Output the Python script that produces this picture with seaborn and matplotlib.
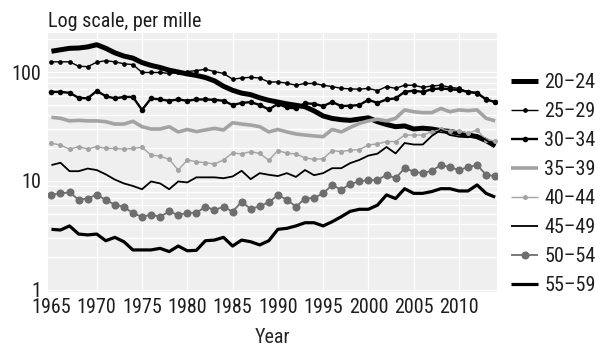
import matplotlib
matplotlib.use("Agg")
import matplotlib.pyplot as plt
from matplotlib import font_manager
from matplotlib.ticker import FixedLocator, NullFormatter
import pandas as pd
import seaborn as sns

# Age-specific fertility rates, per mille, 1965-2014
years = list(range(1965, 2015))
age_groups = ["20–24", "25–29", "30–34", "35–39", "40–44", "45–49", "50–54", "55–59"]

rate_20_24 = [155, 160, 165, 166, 170, 178, 165, 150, 140, 134,
              122, 115, 110, 104, 100, 96, 93, 89, 83, 74,
              68, 64, 62, 58, 55, 53, 51, 49.5, 48, 44,
              39.5, 37.5, 36.5, 36, 37, 38, 35, 33, 31.5, 32,
              30, 30.5, 30, 29, 28.5, 27.5, 26.5, 25.5, 23.5, 21]
rate_25_29 = [124, 124, 124, 113, 112, 123, 127, 124, 119, 117,
              99, 99, 99, 97, 99, 101, 103, 106, 101, 97,
              86, 88, 89.5, 88, 81, 81, 79, 75.6, 78.5, 78.5,
              75.6, 73.5, 70.8, 70, 69.5, 70.8, 67.4, 73.5, 70.8, 75.6,
              75.6, 72.3, 74.4, 75.6, 72.3, 70.8, 65.7, 63.3, 55.9, 53]
rate_30_34 = [65.7, 65.7, 64.4, 58, 57.3, 67, 60, 57.3, 59, 59,
              44.9, 57.3, 56, 54.5, 56, 54.5, 56, 56, 55.6, 54.5,
              49.8, 52, 53, 49.8, 45.4, 51, 47.3, 46.3, 51.6, 51,
              48.7, 53, 48.7, 49, 49.8, 55.6, 52, 56, 57.3, 65.7,
              67.4, 65.7, 69.5, 70.8, 69.5, 68.4, 65.7, 64.4, 56, 53]
rate_35_39 = [38.4, 37.6, 35.6, 36, 35.6, 35.6, 35, 33.3, 33.3, 35.3,
              31.5, 30, 30, 31.5, 28.2, 29.7, 28.4, 29.4, 30.4, 29.4,
              34.2, 33.3, 32.6, 31.5, 28.2, 29.7, 28.2, 27, 26.4, 25.9,
              25.5, 29.7, 28.2, 31, 33.8, 35.6, 36.8, 35.6, 37.6, 44.9,
              43.2, 42.4, 42.4, 46.3, 43.2, 44.9, 44.2, 44.9, 37.6, 35.6]
rate_40_44 = [22.2, 21.4, 19.5, 20.7, 19.6, 20.7, 19.9, 19.9, 19.6, 19.9,
              20.4, 17.3, 16.9, 15.8, 12.6, 15.6, 15.0, 14.7, 14.3, 15.6,
              18.1, 17.7, 18.6, 17.9, 15.5, 19.0, 18.0, 17.7, 16.3, 15.8,
              16.0, 19.0, 18.6, 19.2, 19.4, 21.4, 21.9, 23.0, 23.0, 26.4,
              26.4, 26.4, 28.2, 29.7, 28.9, 28.9, 27.4, 29.4, 23.8, 23.4]
rate_45_49 = [14.0, 14.7, 12.3, 12.3, 13.0, 12.6, 11.5, 10.3, 9.5, 9.0,
              8.4, 9.9, 9.5, 8.4, 9.9, 9.7, 10.8, 10.8, 10.8, 10.6,
              11.0, 12.4, 10.4, 11.8, 11.4, 11.1, 11.8, 10.9, 12.6, 11.3,
              11.8, 13.1, 13.1, 14.6, 15.6, 17.1, 17.8, 20.5, 17.9, 22.3,
              21.6, 21.6, 25.9, 29.4, 26.4, 25.5, 25.2, 26.4, 23.8, 20.9]
rate_50_54 = [7.5, 7.7, 7.85, 6.75, 6.9, 7.5, 6.7, 6.05, 5.8, 5.05,
              4.7, 4.9, 4.7, 5.25, 4.87, 5.1, 5.1, 5.8, 5.42, 5.8,
              5.23, 6.45, 5.55, 5.85, 6.4, 7.4, 6.75, 5.8, 6.9, 7.0,
              7.7, 9.2, 8.3, 9.4, 9.9, 10.2, 10.2, 11.4, 10.6, 13.1,
              12.2, 11.8, 12.4, 14.0, 13.4, 12.6, 13.4, 14.0, 11.4, 11.1]
rate_55_59 = [3.6, 3.55, 3.87, 3.26, 3.2, 3.26, 2.83, 3.04, 2.77, 2.33,
              2.33, 2.33, 2.41, 2.25, 2.53, 2.29, 2.31, 2.83, 2.87, 3.04,
              2.53, 2.87, 2.77, 2.59, 2.83, 3.6, 3.68, 3.87, 4.14, 4.14,
              3.87, 4.23, 4.7, 5.27, 5.5, 5.5, 6.0, 7.45, 6.9, 8.5,
              7.7, 7.7, 8.0, 8.5, 8.5, 8.1, 8.1, 9.2, 7.7, 7.1]

series = [rate_20_24, rate_25_29, rate_30_34, rate_35_39,
          rate_40_44, rate_45_49, rate_50_54, rate_55_59]

df = pd.concat(
    [pd.DataFrame({"Year": years, "Rate": vals, "Age": age})
     for age, vals in zip(age_groups, series)],
    ignore_index=True,
)

# Line appearance per age group
styles = {
    "20–24": dict(color="#000000", linewidth=3.6),
    "25–29": dict(color="#000000", linewidth=1.0, marker="o", markersize=3.4),
    "30–34": dict(color="#000000", linewidth=1.7, marker="o", markersize=4.0),
    "35–39": dict(color="#a3a3a3", linewidth=2.6),
    "40–44": dict(color="#a3a3a3", linewidth=1.0, marker="o", markersize=3.6),
    "45–49": dict(color="#000000", linewidth=1.3),
    "50–54": dict(color="#6e6e6e", linewidth=1.3, marker="o", markersize=5.8),
    "55–59": dict(color="#000000", linewidth=2.3),
}

sns.set_style("white")

# Prefer a narrow sans face; otherwise use Liberation Sans at a smaller size
installed = {f.name for f in font_manager.fontManager.ttflist}
narrow = [n for n in ("Liberation Sans Narrow", "Roboto Condensed",
                      "Open Sans Condensed") if n in installed]
if narrow:
    plt.rcParams["font.family"] = [narrow[0], "DejaVu Sans"]
    FS = 14.5
else:
    plt.rcParams["font.family"] = ["Liberation Sans", "DejaVu Sans"]
    FS = 12.3
plt.rcParams["text.color"] = "#1e1e1e"

fig = plt.figure(figsize=(5.95, 3.49), dpi=100)
ax = fig.add_axes([48 / 595, 1 - 292 / 349, 449 / 595, 259 / 349])
ax.set_facecolor("#efefef")

for age in age_groups:
    sub = df[df["Age"] == age]
    sns.lineplot(data=sub, x="Year", y="Rate", ax=ax, label=age,
                 markeredgewidth=0, solid_joinstyle="round",
                 solid_capstyle="butt", **styles[age])

ax.set_yscale("log")
ax.set_xlim(1964.62, 2014.2)
ax.set_ylim(0.958, 228)

ax.set_xticks(list(range(1965, 2011, 5)))
ax.set_xticklabels([str(y) for y in range(1965, 2011, 5)])
ax.yaxis.set_major_locator(FixedLocator([1, 10, 100]))
ax.set_yticklabels(["1", "10", "100"])
minor = [m * d for d in (1, 10, 100) for m in range(2, 10) if m * d < 228]
ax.yaxis.set_minor_locator(FixedLocator(minor))
ax.yaxis.set_minor_formatter(NullFormatter())

ax.grid(True, which="both", color="white", linewidth=0.9)
ax.set_axisbelow(True)
ax.xaxis.get_gridlines()[0].set_visible(False)

ax.tick_params(axis="both", which="both", length=0, labelsize=FS, colors="#1e1e1e")
ax.tick_params(axis="x", pad=4)
ax.tick_params(axis="y", pad=5)
for s in ax.spines.values():
    s.set_visible(False)

ax.set_xlabel("Year", fontsize=FS, labelpad=8)
ax.set_ylabel("")

fig.text(48 / 595, 1 - 27 / 349, "Log scale, per mille", fontsize=FS,
         ha="left", va="baseline")

leg = ax.legend(loc="upper left", bbox_to_anchor=(511 / 595, 1 - 73 / 349),
                bbox_transform=fig.transFigure, frameon=False, fontsize=FS,
                handlelength=1.35, handletextpad=0.3, labelspacing=0.5,
                borderaxespad=0, borderpad=0)

fig.savefig("out.png", dpi=100)
